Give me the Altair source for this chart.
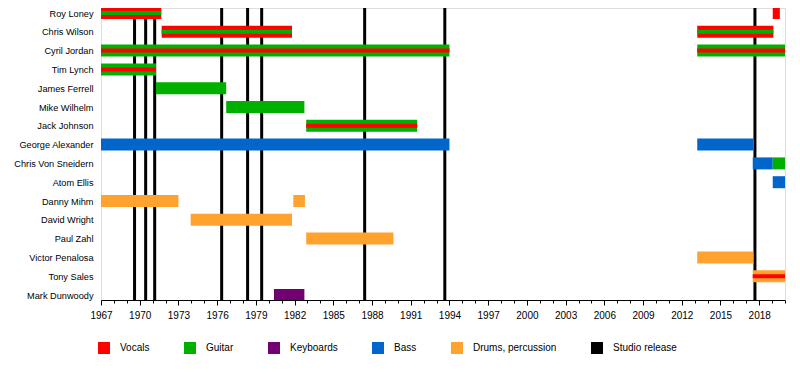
import altair as alt
import pandas as pd

# ---- data -------------------------------------------------------------
members = ["Roy Loney", "Chris Wilson", "Cyril Jordan", "Tim Lynch", "James Ferrell",
           "Mike Wilhelm", "Jack Johnson", "George Alexander", "Chris Von Sneidern",
           "Atom Ellis", "Danny Mihm", "David Wright", "Paul Zahl", "Victor Penalosa",
           "Tony Sales", "Mark Dunwoody"]

roles = ["Vocals", "Guitar", "Keyboards", "Bass", "Drums, percussion", "Studio release"]
role_colors = ["#FF0000", "#00B000", "#730073", "#0066CC", "#FFA32E", "#000000"]

# main (outer) bars
bar_member = ["Roy Loney", "Roy Loney", "Chris Wilson", "Chris Wilson", "Cyril Jordan",
              "Cyril Jordan", "Tim Lynch", "James Ferrell", "Mike Wilhelm", "Jack Johnson",
              "George Alexander", "George Alexander", "Chris Von Sneidern",
              "Chris Von Sneidern", "Atom Ellis", "Danny Mihm", "Danny Mihm", "David Wright",
              "Paul Zahl", "Victor Penalosa", "Tony Sales", "Mark Dunwoody"]
bar_start = [1967.0, 2019.05, 1971.7, 2013.2, 1967.0, 2013.2, 1967.0, 1971.25, 1976.7,
             1982.9, 1967.0, 2013.2, 2017.5, 2019.05, 2019.05, 1967.0, 1981.9, 1973.95,
             1982.9, 2013.2, 2017.5, 1980.4]
bar_end = [1971.67, 2019.6, 1981.8, 2019.1, 1994.0, 2020.0, 1971.26, 1976.7, 1982.76,
           1991.5, 1994.0, 2017.55, 2019.05, 2020.0, 2020.0, 1973.0, 1982.8, 1981.8,
           1989.66, 2017.55, 2020.0, 1982.76]
bar_role = ["Vocals", "Vocals", "Vocals", "Vocals", "Guitar", "Guitar", "Guitar", "Guitar",
            "Guitar", "Guitar", "Bass", "Bass", "Bass", "Guitar", "Bass",
            "Drums, percussion", "Drums, percussion", "Drums, percussion",
            "Drums, percussion", "Drums, percussion", "Drums, percussion", "Keyboards"]

# secondary (inner stripe) bars
stripe_member = ["Roy Loney", "Chris Wilson", "Chris Wilson", "Cyril Jordan", "Cyril Jordan",
                 "Tim Lynch", "Jack Johnson", "Tony Sales"]
stripe_start = [1967.0, 1971.7, 2013.2, 1967.0, 2013.2, 1967.0, 1982.9, 2017.5]
stripe_end = [1971.67, 1981.8, 2019.1, 1994.0, 2020.0, 1971.26, 1991.5, 2020.0]
stripe_role = ["Guitar", "Guitar", "Guitar", "Vocals", "Vocals", "Vocals", "Vocals", "Vocals"]

# studio releases
release_years = [1969.6, 1970.46, 1971.16, 1976.35, 1978.36, 1979.45, 1987.43, 1993.64, 2017.67]

year_min, year_max = 1967, 2020
tick_years = list(range(year_min, year_max + 1))

# ---- tables -----------------------------------------------------------
bars = pd.DataFrame({"member": bar_member, "start": bar_start, "end": bar_end, "role": bar_role})
stripes = pd.DataFrame({"member": stripe_member, "start": stripe_start, "end": stripe_end,
                        "role": stripe_role})
releases = pd.DataFrame({"year": release_years})

FONT = "Liberation Sans"

x_scale = alt.Scale(domain=[year_min, year_max], nice=False, zero=False)
y_scale = alt.Scale(type="point", domain=members, range=[5, 287], padding=0)
color_scale = alt.Scale(domain=roles, range=role_colors)

x_axis = alt.Axis(
    values=tick_years, format="d",
    labelExpr="(datum.value - 1967) % 3 === 0 && datum.value <= 2018 ? datum.label : ''",
    tickSize={"condition": {"test": "(datum.value - 1967) % 3 === 0", "value": 5}, "value": 3},
    tickColor="black", domainColor="black", grid=False, title=None,
    labelFont=FONT, labelFontSize=10, labelColor="black", labelPadding=5,
    labelOverlap=False, labelFlush=False,
)
y_axis = alt.Axis(title=None, ticks=False, domain=False, grid=False, labelFont=FONT,
                  labelFontSize=9.2, labelColor="black", labelPadding=8)

legend = alt.Legend(
    title=None, orient="none", legendX=-3, legendY=334, direction="horizontal",
    columns=6, symbolType="square", symbolSize=144, symbolStrokeWidth=0,
    labelFont=FONT, labelFontSize=10, labelColor="black", labelOffset=10,
    columnPadding=34, padding=0,
)

rules = alt.Chart(releases).mark_rule(color="black", strokeWidth=3).encode(
    x=alt.X("year:Q", scale=x_scale, axis=x_axis)
)

outer = alt.Chart(bars).mark_bar(size=12, clip=True).encode(
    x=alt.X("start:Q", scale=x_scale, axis=x_axis),
    x2="end:Q",
    y=alt.Y("member:N", scale=y_scale, axis=y_axis, sort=members),
    color=alt.Color("role:N", scale=color_scale, legend=legend),
)

inner = alt.Chart(stripes).mark_bar(size=4, clip=True).encode(
    x=alt.X("start:Q", scale=x_scale, axis=x_axis),
    x2="end:Q",
    y=alt.Y("member:N", scale=y_scale, axis=y_axis, sort=members),
    color=alt.Color("role:N", scale=color_scale, legend=legend),
)

chart = alt.layer(rules, outer, inner).properties(
    width=684, height=292,
    autosize=alt.AutoSizeParams(type="none"),
    padding={"left": 93, "top": 0, "right": 7, "bottom": 59},
).configure_view(stroke=None).configure(background="white")

chart.save("out.html", embed_options={"renderer": "svg", "actions": False})
